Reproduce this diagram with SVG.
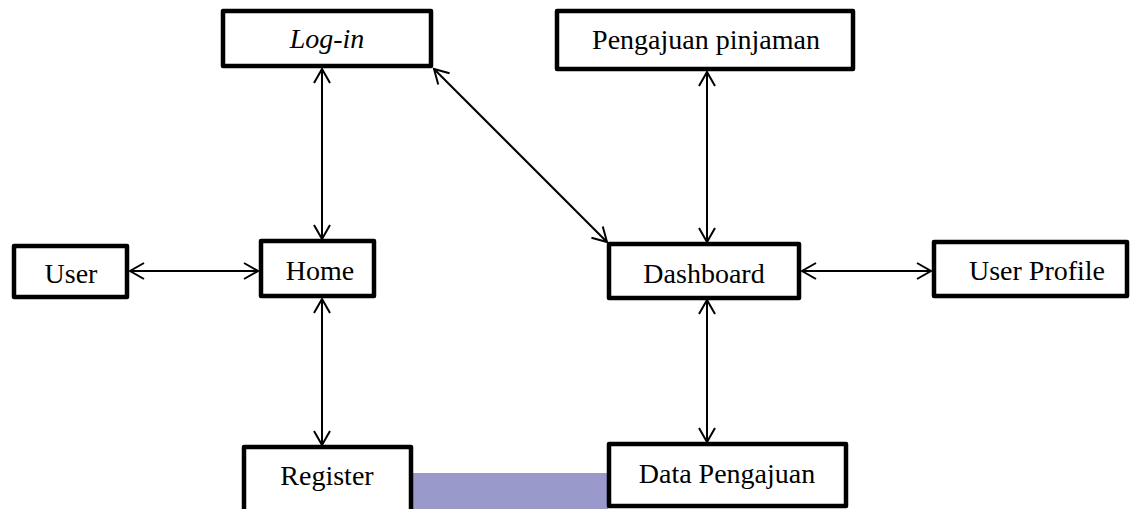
<svg xmlns="http://www.w3.org/2000/svg" width="1141" height="509" viewBox="0 0 1141 509">
<style>
.box{fill:#fff;stroke:#000;stroke-width:4.5;stroke-linejoin:round}
.lbl{font-family:"Liberation Serif","Times New Roman","DejaVu Serif",serif;font-size:28px;fill:#000;text-anchor:middle}
.con{stroke:#000;stroke-width:2;fill:none;marker-start:url(#ah);marker-end:url(#ah)}
</style>
<defs>
<marker id="ah" viewBox="-16 -10 18 20" refX="0" refY="0" markerWidth="18" markerHeight="20" markerUnits="userSpaceOnUse" orient="auto-start-reverse">
<path d="M-14,-8 L0,0 L-14,8" fill="none" stroke="#000" stroke-width="2"/>
</marker>
</defs>
<rect x="413" y="473" width="195" height="36" fill="#9999cc"/>
<g id="connectors">
<line class="con" x1="322" y1="69" x2="322" y2="239"/>
<line class="con" x1="322" y1="299" x2="322" y2="445"/>
<line class="con" x1="434" y1="69" x2="607" y2="242"/>
<line class="con" x1="707" y1="72" x2="707" y2="242"/>
<line class="con" x1="707" y1="300" x2="707" y2="442"/>
<line class="con" x1="130" y1="271" x2="258" y2="271"/>
<line class="con" x1="802" y1="271" x2="931" y2="271"/>
</g>
<g id="login"><rect class="box" x="223" y="11" width="208" height="55"/><text class="lbl" x="327" y="48" font-style="italic">Log-in</text></g>
<g id="pengajuan"><rect class="box" x="557" y="11" width="296" height="58"/><text class="lbl" x="706" y="49">Pengajuan pinjaman</text></g>
<g id="user"><rect class="box" x="14" y="246" width="113" height="51"/><text class="lbl" x="71" y="283">User</text></g>
<g id="home"><rect class="box" x="261" y="241" width="113" height="55"/><text class="lbl" x="320" y="280">Home</text></g>
<g id="dashboard"><rect class="box" x="609" y="244" width="190" height="54"/><text class="lbl" x="704" y="283">Dashboard</text></g>
<g id="userprofile"><rect class="box" x="934" y="242" width="193" height="54"/><text class="lbl" x="1037" y="280">User Profile</text></g>
<g id="register"><rect class="box" x="244" y="447" width="167" height="70"/><text class="lbl" x="327" y="485">Register</text></g>
<g id="datapengajuan"><rect class="box" x="609" y="444" width="237" height="62"/><text class="lbl" x="727" y="483">Data Pengajuan</text></g>
</svg>
